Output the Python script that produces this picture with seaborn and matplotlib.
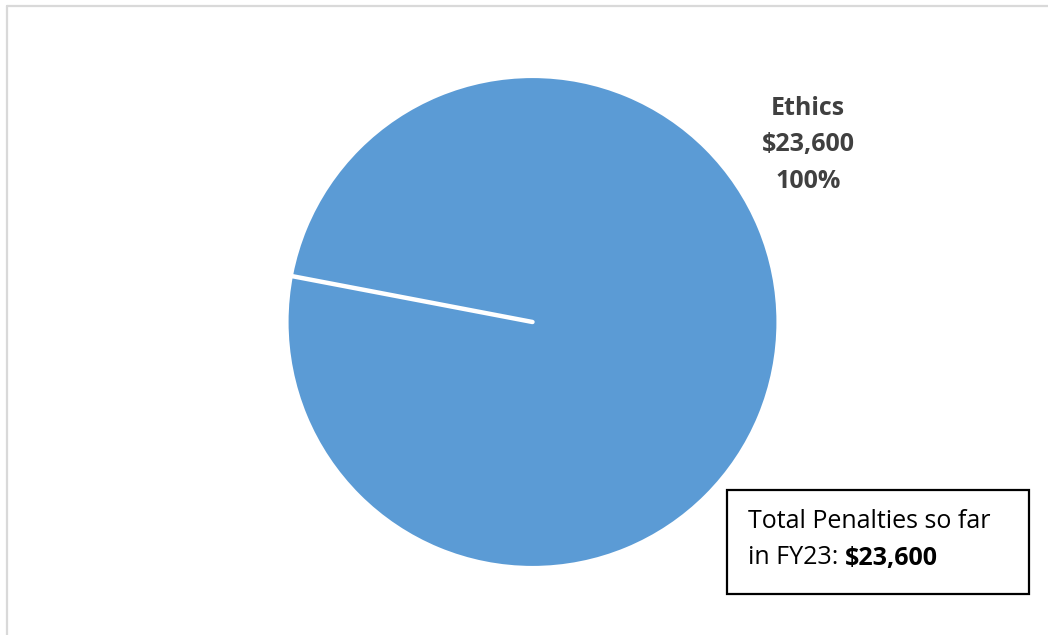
import matplotlib
matplotlib.use("Agg")
import numpy as np
import matplotlib.pyplot as plt
import seaborn as sns
from matplotlib.patches import Rectangle
from matplotlib.lines import Line2D

sns.set_theme(style="white")
plt.rcParams['font.family'] = ['Open Sans', 'DejaVu Sans']

# Data
categories = ["Ethics"]
values = [23600]
label_texts = ["Ethics\n$23,600\n100%"]
total_label = "$23,600"
colors = ["#5B9BD5"]

W, H = 1048, 635
fig = plt.figure(figsize=(W / 100, H / 100), dpi=100)
ax = fig.add_axes([0, 0, 1, 1])

cx, cy, r = 532.5, 322, 246
wedges, _ = ax.pie(values, colors=colors, startangle=169.2, counterclock=False,
                   center=(cx, H - cy), radius=r,
                   wedgeprops=dict(edgecolor="white", linewidth=3))
ax.set_xlim(0, W)
ax.set_ylim(0, H)
ax.set_aspect("equal")
ax.axis("off")

# slice boundary (full wedge has no radial edge drawn by matplotlib)
for w in wedges:
    th = np.deg2rad(w.theta1)
    x0, y0 = w.center
    ax.plot([x0, x0 + w.r * np.cos(th)], [y0, y0 + w.r * np.sin(th)],
            color="white", linewidth=3.2, solid_capstyle="round", zorder=5)

# slice label
ax.text(808, H - 145, label_texts[0], ha="center", va="center",
        fontsize=18, fontweight="bold", color="#404040", linespacing=1.62)

# total box
ax.add_patch(Rectangle((727, H - 594), 302, 104, fill=False,
                       edgecolor="black", linewidth=1.6))
ax.text(748, H - 521, "Total Penalties so far", ha="left", va="center",
        fontsize=18, color="black")
t = ax.text(748, H - 558, "in FY23: ", ha="left", va="center",
            fontsize=18, color="black")
ax.annotate(total_label, xy=(1, 0), xycoords=t, ha="left", va="bottom",
            fontsize=18, fontweight="bold", color="black")

# outer frame (left and top edges)
fig.add_artist(Line2D([6.5 / W, 6.5 / W], [0, 1 - 5.5 / H], transform=fig.transFigure,
                      color="#D9D9D9", linewidth=1.6))
fig.add_artist(Line2D([6.5 / W, 1], [1 - 5.5 / H, 1 - 5.5 / H], transform=fig.transFigure,
                      color="#D9D9D9", linewidth=1.6))

fig.savefig("out.png", dpi=100)
